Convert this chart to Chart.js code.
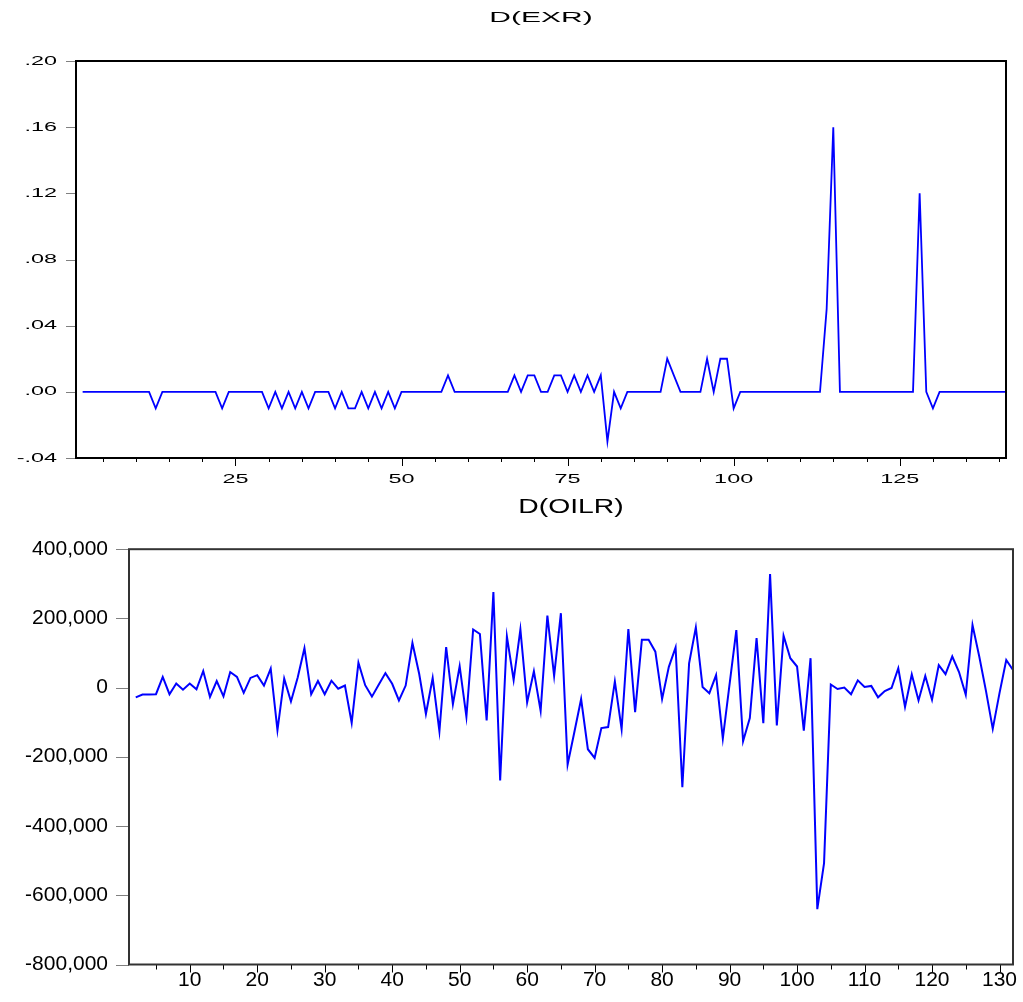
<!DOCTYPE html>
<html><head><meta charset="utf-8">
<script src="https://cdn.jsdelivr.net/npm/chart.js@4/dist/chart.umd.min.js"></script>
<style>
html,body{margin:0;padding:0;background:#fff;width:1023px;height:1002px;overflow:hidden}
#c1{position:absolute;left:0;top:0}
#c2{position:absolute;left:0;top:495px}
</style></head><body>
<canvas id="c1" width="1023" height="495" style="width:1023px;height:495px"></canvas>
<canvas id="c2" width="1023" height="507" style="width:1023px;height:507px"></canvas>
<script>
// ---------- DATA ----------
const exrTitle = 'D(EXR)';
const exrStart = 2;            // first observation number
const exrValues = [
  0,0,0,0,0,0,0,0,0,0,
  0,-0.01,0,0,0,0,0,0,0,0,
  0,-0.01,0,0,0,0,0,0,-0.01,0,
  -0.01,0,-0.01,0,-0.01,0,0,0,-0.01,0,
  -0.01,-0.01,0,-0.01,0,-0.01,0,-0.01,0,0,
  0,0,0,0,0,0.01,0,0,0,0,
  0,0,0,0,0,0.01,0,0.01,0.01,0,
  0,0.01,0.01,0,0.01,0,0.01,0,0.01,-0.03,
  0,-0.01,0,0,0,0,0,0,0.02,0.01,
  0,0,0,0,0.02,0,0.02,0.02,-0.01,0,
  0,0,0,0,0,0,0,0,0,0,
  0,0,0.05,0.16,0,0,0,0,0,0,
  0,0,0,0,0,0,0.12,0,-0.01,0,
  0,0,0,0,0,0,0,0,0,0
];
const exrXTicks = [25, 50, 75, 100, 125];
const exrYTicks = [-0.04, 0, 0.04, 0.08, 0.12, 0.16, 0.20];
const exrYLabels = ['-.04', '.00', '.04', '.08', '.12', '.16', '.20'];

const oilTitle = 'D(OILR)';
const oilStart = 2;
const oilValues = [
  -28000,-20000,-20000,-19000,31000,-19000,12000,-6000,12000,-5000,
  48000,-27000,19000,-25000,45000,31000,-15000,28000,36000,6000,
  55000,-123000,26000,-40000,29000,114000,-19000,19000,-19000,20000,
  -3000,6000,-102000,72000,7000,-26000,8000,42000,11000,-37000,
  6000,129000,40000,-76000,28000,-126000,117000,-48000,62000,-84000,
  168000,155000,-95000,276000,-268000,148000,22000,168000,-43000,47000,
  -67000,208000,34000,215000,-222000,-128000,-33000,-178000,-203000,-117000,
  -114000,18000,-120000,169000,-71000,138000,138000,104000,-33000,60000,
  116000,-288000,70000,174000,2000,-16000,36000,-147000,10000,166000,
  -155000,-88000,143000,-103000,328000,-109000,150000,85000,61000,-124000,
  85000,-640000,-507000,9000,-4000,0,-19000,21000,2000,5000,
  -28000,-10000,-1000,56000,-56000,38000,-37000,34000,-35000,65000,
  39000,90000,45000,-21000,181000,90000,-10000,-119000,-16000,80000,
  51000
];
const oilXTicks = [10, 20, 30, 40, 50, 60, 70, 80, 90, 100, 110, 120, 130];
const oilYTicks = [-800000, -600000, -400000, -200000, 0, 200000, 400000];
const oilYLabels = ['-800,000', '-600,000', '-400,000', '-200,000', '0', '200,000', '400,000'];

// ---------- HELPERS ----------
const FONT = "'Liberation Sans', Arial, sans-serif";
const toPoints = (start, vals) => vals.map((v, i) => ({ x: start + i, y: v }));

// Stretches canvas text horizontally around its anchor (the source chart uses wide lettering)
const stretchText = {
  id: 'stretchText',
  beforeDraw(chart, args, opts) {
    const ctx = chart.ctx;
    if (ctx.__patched) return;
    ctx.__patched = true;
    const orig = ctx.fillText;
    const map = opts.map || {};
    ctx.fillText = function (text, x, y, maxWidth) {
      const m = /(\d+(?:\.\d+)?)px/.exec(this.font);
      const sx = m && map[m[1]] ? map[m[1]] : 1;
      if (sx === 1) return orig.call(this, text, x, y);
      this.save();
      this.translate(x, y);
      this.scale(sx, 1);
      orig.call(this, text, 0, 0);
      this.restore();
    };
  }
};

const frameTicks = {
  id: 'frameTicks',
  afterDraw(chart, args, o) {
    const { ctx, chartArea: a, scales: { x, y } } = chart;
    ctx.save();
    ctx.lineWidth = 1;
    ctx.strokeStyle = o.yTickColor;
    ctx.beginPath();
    for (const t of y.ticks) {
      const py = Math.round(y.getPixelForValue(t.value)) + 0.5;
      ctx.moveTo(a.left - o.yTickLen, py);
      ctx.lineTo(a.left, py);
    }
    ctx.stroke();
    ctx.strokeStyle = o.xTickColor;
    ctx.beginPath();
    for (let v = Math.ceil(x.min / o.minorStep) * o.minorStep; v <= x.max; v += o.minorStep) {
      const major = o.majors.includes(v);
      const px = Math.round(x.getPixelForValue(v)) + 0.5;
      ctx.moveTo(px, a.bottom);
      ctx.lineTo(px, a.bottom + (major ? o.majorLen : o.minorLen));
    }
    ctx.stroke();
    ctx.lineWidth = o.frameWidth;
    ctx.strokeStyle = o.frameColor;
    ctx.strokeRect(a.left, a.top, a.right - a.left, a.bottom - a.top);
    ctx.restore();
  }
};

function makeChart(el, cfg) {
  return new Chart(el, {
    type: 'line',
    data: {
      datasets: [{
        data: toPoints(cfg.start, cfg.values),
        borderColor: '#0000ff',
        borderWidth: cfg.lineWidth,
        pointRadius: 0,
        tension: 0,
        fill: false
      }]
    },
    options: {
      responsive: false,
      animation: false,
      events: [],
      layout: { padding: { left: 0, right: cfg.padRight, top: 0, bottom: 0 } },
      plugins: {
        legend: { display: false },
        tooltip: { enabled: false },
        title: {
          display: true, text: cfg.title, fullSize: false, color: '#000',
          font: { family: FONT, size: cfg.titleSize, weight: 'normal', lineHeight: 1.2 },
          padding: cfg.titlePad
        },
        stretchText: { map: cfg.stretch },
        frameTicks: cfg.frame
      },
      scales: {
        x: {
          type: 'linear', min: cfg.xMin, max: cfg.xMax,
          afterFit: s => { s.height = cfg.xAxisHeight; },
          afterBuildTicks: s => { s.ticks = cfg.xTicks.map(v => ({ value: v })); },
          grid: { display: false, drawTicks: false },
          border: { display: false },
          ticks: {
            autoSkip: false, maxRotation: 0, color: '#000', padding: cfg.xLabelPad,
            font: { family: FONT, size: cfg.xLabelSize },
            callback: v => String(v)
          }
        },
        y: {
          type: 'linear', min: cfg.yTicks[0], max: cfg.yTicks[cfg.yTicks.length - 1],
          afterFit: s => { s.width = cfg.yAxisWidth; },
          afterBuildTicks: s => { s.ticks = cfg.yTicks.map(v => ({ value: v })); },
          grid: { display: false, drawTicks: false },
          border: { display: false },
          ticks: {
            autoSkip: false, color: '#000', padding: cfg.yLabelPad,
            font: { family: FONT, size: cfg.yLabelSize },
            callback: (v, i) => cfg.yLabels[i]
          }
        }
      }
    },
    plugins: [stretchText, frameTicks]
  });
}

makeChart(document.getElementById('c1'), {
  title: exrTitle, start: exrStart, values: exrValues,
  xTicks: exrXTicks, yTicks: exrYTicks, yLabels: exrYLabels,
  xMin: 1, xMax: 141, lineWidth: 1.8,
  padRight: 17, yAxisWidth: 76, xAxisHeight: 37,
  titleSize: 15, titlePad: { top: 9, bottom: 34 },
  xLabelSize: 13, yLabelSize: 13, xLabelPad: 14, yLabelPad: 19,
  stretch: { '15': 2.0, '13': 1.8 },
  frame: { yTickColor: '#808080', yTickLen: 10, xTickColor: '#000', majors: exrXTicks,
           minorStep: 5, majorLen: 8, minorLen: 4, frameWidth: 2, frameColor: '#000' }
});

makeChart(document.getElementById('c2'), {
  title: oilTitle, start: oilStart, values: oilValues,
  xTicks: oilXTicks, yTicks: oilYTicks, yLabels: oilYLabels,
  xMin: 1, xMax: 132, lineWidth: 2,
  padRight: 10, yAxisWidth: 129, xAxisHeight: 37.5,
  titleSize: 21, titlePad: { top: 0, bottom: 29 },
  xLabelSize: 20, yLabelSize: 20, xLabelPad: 4, yLabelPad: 21,
  stretch: { '21': 1.35, '20': 1.05 },
  frame: { yTickColor: '#808080', yTickLen: 13, xTickColor: '#000', majors: oilXTicks,
           minorStep: 5, majorLen: 8, minorLen: 5, frameWidth: 2, frameColor: '#333' }
});
</script>
</body></html>
